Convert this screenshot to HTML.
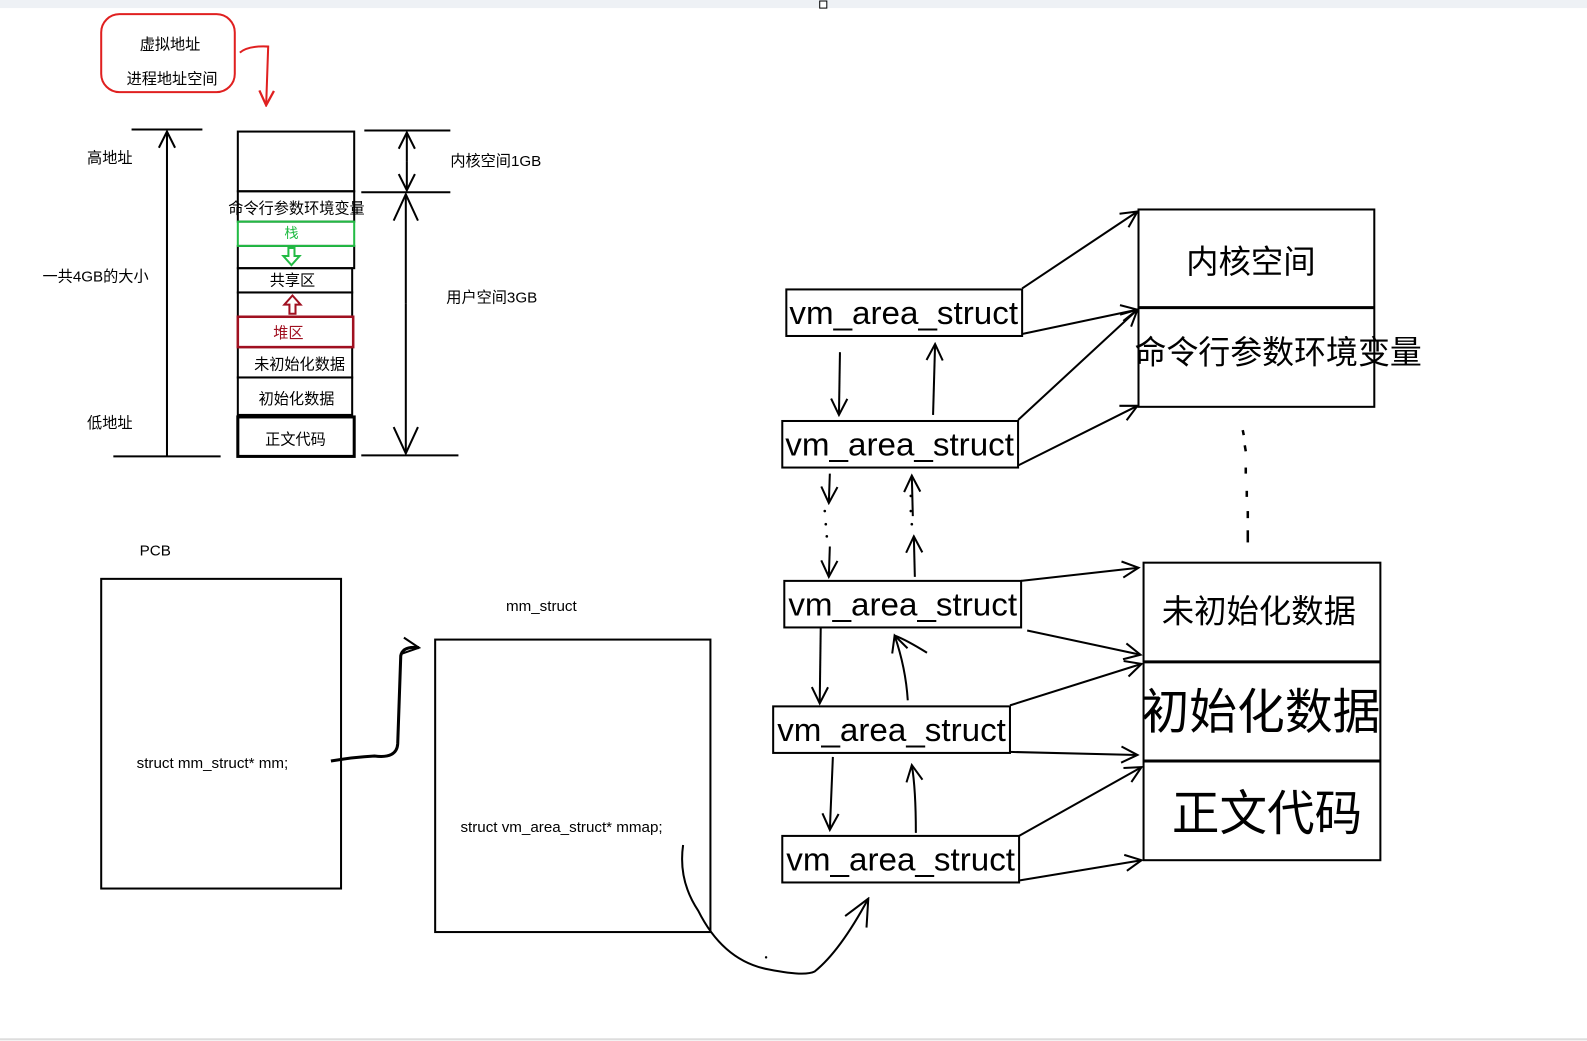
<!DOCTYPE html>
<html><head><meta charset="utf-8"><style>
html,body{margin:0;padding:0;background:#fff;}
svg{display:block;}
text{font-family:"Liberation Sans","Noto Sans CJK SC",sans-serif;fill:#000;}
</style></head><body>
<svg width="1587" height="1041" viewBox="0 0 1587 1041" xmlns="http://www.w3.org/2000/svg">
<defs>
<marker id="a" viewBox="0 0 20 20" refX="18" refY="10" markerWidth="20" markerHeight="20" markerUnits="userSpaceOnUse" orient="auto">
<path d="M2 2 L18 10 L2 18" fill="none" stroke="#000" stroke-width="2"/></marker>
<marker id="r" viewBox="0 0 20 20" refX="18" refY="10" markerWidth="18" markerHeight="18" markerUnits="userSpaceOnUse" orient="auto">
<path d="M2 2 L18 10 L2 18" fill="none" stroke="#e02020" stroke-width="2.5"/></marker>
<marker id="b" viewBox="0 0 30 30" refX="28" refY="15" markerWidth="30" markerHeight="30" markerUnits="userSpaceOnUse" orient="auto">
<path d="M2 3 L28 15 L2 27" fill="none" stroke="#000" stroke-width="2"/></marker>
</defs>
<g transform="scale(1.012)">
<rect x="0" y="0" width="1587" height="8" fill="#eef1f5"/>
<rect x="810" y="1" width="7" height="7" fill="#fff" stroke="#000" stroke-width="1"/>
<line x1="0" y1="1027" x2="1587" y2="1027" stroke="#ddd" stroke-width="2"/>

<rect x="100" y="14" width="132" height="77" rx="18" fill="none" stroke="#e02020" stroke-width="2"/>
<text x="168" y="49" font-size="15" text-anchor="middle">虚拟地址</text>
<text x="170" y="83" font-size="15" text-anchor="middle">进程地址空间</text>
<path d="M237 52 Q245 45 265 46 L263 104" fill="none" stroke="#e02020" stroke-width="2" marker-end="url(#r)"/>

<line x1="130" y1="128" x2="200" y2="128" stroke="#000" stroke-width="2"/>
<line x1="112" y1="451" x2="218" y2="451" stroke="#000" stroke-width="2"/>
<line x1="165" y1="451" x2="165" y2="130" stroke="#000" stroke-width="2" marker-end="url(#a)"/>
<text x="86" y="161" font-size="15">高地址</text>
<text x="42" y="278" font-size="15">一共4GB的大小</text>
<text x="86" y="423" font-size="15">低地址</text>

<g fill="none" stroke="#000" stroke-width="2">
<rect x="235" y="130" width="115" height="59"/>
<rect x="235" y="189" width="115" height="30"/>
<rect x="235" y="243" width="115" height="22"/>
<rect x="235" y="265" width="113" height="24"/>
<rect x="235" y="289" width="113" height="24"/>
<rect x="235" y="343" width="113" height="30"/>
<rect x="235" y="373" width="113" height="37"/>
<rect x="235" y="412" width="115" height="39" stroke-width="3"/>
</g>
<rect x="235" y="219" width="115" height="24" fill="none" stroke="#22bb44" stroke-width="2"/>
<rect x="235" y="313" width="114" height="30" fill="none" stroke="#a01020" stroke-width="2.5"/>
<text x="293" y="211" font-size="15" text-anchor="middle">命令行参数环境变量</text>
<text x="288" y="235" font-size="14" text-anchor="middle" style="fill:#22bb44">栈</text>
<path d="M285 245 h6 v8 h5 l-8 9 l-8 -9 h5 z" fill="none" stroke="#22bb44" stroke-width="2"/>
<text x="289" y="282" font-size="15" text-anchor="middle">共享区</text>
<path d="M286 310 v-9 h-5 l8 -9 l8 9 h-5 v9 z" fill="none" stroke="#a01020" stroke-width="2"/>
<text x="285" y="334" font-size="15" text-anchor="middle" style="fill:#a01020">堆区</text>
<text x="296" y="365" font-size="15" text-anchor="middle">未初始化数据</text>
<text x="293" y="399" font-size="15" text-anchor="middle">初始化数据</text>
<text x="292" y="439" font-size="15" text-anchor="middle">正文代码</text>

<g stroke="#000" stroke-width="2">
<line x1="360" y1="129" x2="445" y2="129"/>
<line x1="357" y1="190" x2="445" y2="190"/>
<line x1="357" y1="450" x2="453" y2="450"/>
</g>
<line x1="402" y1="160" x2="402" y2="131" stroke="#000" stroke-width="2" marker-end="url(#a)"/>
<line x1="402" y1="160" x2="402" y2="188" stroke="#000" stroke-width="2" marker-end="url(#a)"/>
<line x1="401" y1="300" x2="401" y2="192" stroke="#000" stroke-width="2" marker-end="url(#b)"/>
<line x1="401" y1="300" x2="401" y2="448" stroke="#000" stroke-width="2" marker-end="url(#b)"/>
<text x="445" y="164" font-size="15">内核空间1GB</text>
<text x="441" y="299" font-size="15">用户空间3GB</text>

<text x="138" y="549" font-size="15">PCB</text>
<rect x="100" y="572" width="237" height="306" fill="none" stroke="#000" stroke-width="2"/>
<text x="135" y="759" font-size="15">struct mm_struct* mm;</text>
<path d="M327 752 Q350 748 370 747 Q392 750 393 735 L396 648 Q398 638 414 640" fill="none" stroke="#000" stroke-width="3" marker-end="url(#a)"/>

<text x="500" y="604" font-size="15">mm_struct</text>
<rect x="430" y="632" width="272" height="289" fill="none" stroke="#000" stroke-width="2"/>
<text x="455" y="822" font-size="15">struct vm_area_struct* mmap;</text>
<path d="M675 835 Q670 870 690 900 Q715 950 760 958 Q795 965 805 960 Q830 940 858 888" fill="none" stroke="#000" stroke-width="2" marker-end="url(#b)"/>
<circle cx="757" cy="946" r="1.2" fill="#000"/>

<g fill="none" stroke="#000" stroke-width="2">
<rect x="777" y="286" width="233" height="46"/>
<rect x="773" y="416" width="233" height="46"/>
<rect x="775" y="574" width="234" height="46"/>
<rect x="764" y="698" width="234" height="46"/>
<rect x="773" y="826" width="234" height="46"/>
</g>
<g font-size="32">
<text x="780" y="320" textLength="226" lengthAdjust="spacingAndGlyphs">vm_area_struct</text>
<text x="776" y="450" textLength="226" lengthAdjust="spacingAndGlyphs">vm_area_struct</text>
<text x="779" y="608" textLength="226" lengthAdjust="spacingAndGlyphs">vm_area_struct</text>
<text x="768" y="732" textLength="226" lengthAdjust="spacingAndGlyphs">vm_area_struct</text>
<text x="777" y="860" textLength="226" lengthAdjust="spacingAndGlyphs">vm_area_struct</text>
</g>

<g fill="none" stroke="#000" stroke-width="2">
<path d="M830 348 L829 410" marker-end="url(#a)"/>
<path d="M922 410 L924 340" marker-end="url(#a)"/>
<path d="M820 468 L819 497" marker-end="url(#a)"/>
<path d="M820 540 L819 570" marker-end="url(#a)"/>
<path d="M902 510 L901 470" marker-end="url(#a)"/>
<path d="M904 570 L903 530" marker-end="url(#a)"/>
<path d="M811 620 L810 695" marker-end="url(#a)"/>
<path d="M916 645 Q895 632 884 628" />
<path d="M897 692 Q895 660 884 628" marker-end="url(#a)"/>
<path d="M823 748 L820 820" marker-end="url(#a)"/>
<path d="M905 823 Q905 780 901 756" marker-end="url(#a)"/>
</g>
<g fill="#000">
<circle cx="815" cy="505" r="1.3"/><circle cx="816" cy="518" r="1.3"/><circle cx="817" cy="530" r="1.3"/>
<circle cx="900" cy="490" r="1.3"/><circle cx="900" cy="505" r="1.3"/><circle cx="901" cy="518" r="1.3"/>
</g>

<g fill="none" stroke="#000" stroke-width="2">
<rect x="1125" y="207" width="233" height="195"/>
<line x1="1125" y1="304" x2="1358" y2="304" stroke-width="3"/>
<rect x="1130" y="556" width="234" height="294"/>
<line x1="1130" y1="654" x2="1364" y2="654" stroke-width="3"/>
<line x1="1130" y1="752" x2="1364" y2="752" stroke-width="3"/>
</g>
<text x="1236" y="270" font-size="32" text-anchor="middle">内核空间</text>
<text x="1121" y="359" font-size="32" textLength="284" lengthAdjust="spacingAndGlyphs">命令行参数环境变量</text>
<text x="1244" y="615" font-size="32" text-anchor="middle">未初始化数据</text>
<text x="1128" y="720" font-size="48" textLength="236" lengthAdjust="spacingAndGlyphs">初始化数据</text>
<text x="1158" y="820" font-size="48" textLength="188" lengthAdjust="spacingAndGlyphs">正文代码</text>
<g stroke="#000" stroke-width="2.5">
<line x1="1228" y1="425" x2="1229" y2="430"/><line x1="1230" y1="440" x2="1231" y2="446"/>
<line x1="1231" y1="462" x2="1231" y2="468"/><line x1="1232" y1="485" x2="1232" y2="491"/>
<line x1="1233" y1="505" x2="1233" y2="512"/><line x1="1233" y1="524" x2="1233" y2="536"/>
</g>

<g fill="none" stroke="#000" stroke-width="2" marker-end="url(#a)">
<path d="M1010 285 L1124 209"/>
<path d="M1010 330 L1124 306"/>
<path d="M1006 415 L1124 306"/>
<path d="M1006 460 L1124 401"/>
<path d="M1009 574 L1125 561"/>
<path d="M1015 623 L1127 647"/>
<path d="M998 697 L1128 656"/>
<path d="M998 743 L1124 746"/>
<path d="M1007 826 L1128 758"/>
<path d="M1007 870 L1128 850"/>
</g>
</g>
</svg>
</body></html>
